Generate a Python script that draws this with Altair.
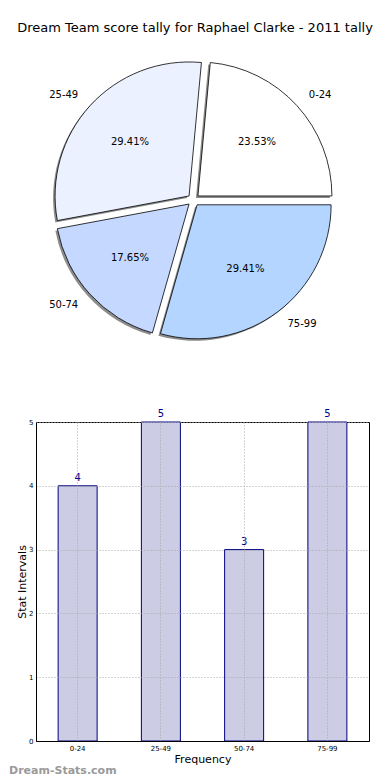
import math
import altair as alt
import pandas as pd

title_text = "Dream Team score tally for Raphael Clarke - 2011 tally"
categories = ["0-24", "25-49", "50-74", "75-99"]
counts = [4, 5, 3, 5]
slice_colors = ["#FFFFFF", "#EBF1FF", "#C5D8FF", "#B3D5FF"]
y_ticks = [0, 1, 2, 3, 4, 5]
x_title = "Frequency"
y_title = "Stat Intervals"
watermark = "Dream-Stats.com"

FONT = "DejaVu Sans"
L = 37
PW, PH = int(2 * (194.5 - L)), 300
BW, BH = 370 - L, 319
R = 134
EXPLODE = 6

# pie geometry derived from counts (matplotlib: start at 3 o'clock, counter-clockwise)
total = sum(counts)
rows = []
cum = 0.0
for cat, n, col in zip(categories, counts, slice_colors):
    a1 = 360.0 * cum / total
    cum += n
    a2 = 360.0 * cum / total
    mid = (a1 + a2) / 2.0
    rows.append({
        "category": cat,
        "count": n,
        "theta": 90.0 - a2,
        "theta2": 90.0 - a1,
        "mid": 90.0 - mid,
        "pct": f"{100.0 * n / total:.2f}%",
        "color": col,
        "dx": EXPLODE * math.cos(math.radians(mid)),
        "dy": -EXPLODE * math.sin(math.radians(mid)),
    })
pie_df = pd.DataFrame(rows)

theta_scale = alt.Scale(domain=[0, 360], range=[0, 2 * math.pi])

base = alt.Chart(pie_df)
shadows, wedges, texts = [], [], []
for r in rows:
    flt = alt.datum.category == r["category"]
    shadows.append(
        base.transform_filter(flt).mark_arc(
            radius=R, fill="#8c8c8c", xOffset=r["dx"] - 2, yOffset=r["dy"] + 2
        ).encode(
            theta=alt.Theta("theta:Q", scale=theta_scale),
            theta2="theta2:Q",
        )
    )
    wedges.append(
        base.transform_filter(flt).mark_arc(
            radius=R, fill=r["color"], stroke="black", strokeWidth=0.8,
            xOffset=r["dx"], yOffset=r["dy"]
        ).encode(
            theta=alt.Theta("theta:Q", scale=theta_scale),
            theta2="theta2:Q",
        )
    )
    texts.append(
        base.transform_filter(flt).mark_text(
            radius=80, fontSize=10, font=FONT, color="black",
            align="center", baseline="middle",
            xOffset=r["dx"], yOffset=r["dy"]
        ).encode(
            theta=alt.Theta("mid:Q", scale=theta_scale, stack=False),
            text="pct:N",
        )
    )
    right_side = math.sin(math.radians(r["mid"])) > 0
    texts.append(
        base.transform_filter(flt).mark_text(
            radius=150, fontSize=10, font=FONT, color="black",
            align="left" if right_side else "right", baseline="middle",
            xOffset=r["dx"], yOffset=r["dy"]
        ).encode(
            theta=alt.Theta("mid:Q", scale=theta_scale, stack=False),
            text="category:N",
        )
    )

pie = alt.layer(*shadows, *wedges, *texts).properties(width=PW, height=PH)

# bar chart
bar_df = pd.DataFrame({"interval": categories, "count": counts})
grid_kw = dict(grid=True, gridDash=[1, 2], gridColor="#a8a8a8", gridWidth=1,
               domainColor="black", zindex=1, ticks=False,
               labelFont=FONT, titleFont=FONT, labelColor="black", titleColor="black")
x_enc = alt.X(
    "interval:N", sort=categories,
    scale=alt.Scale(paddingInner=0, paddingOuter=0),
    axis=alt.Axis(title=x_title, labelAngle=0, labelFontSize=7, labelPadding=3,
                  titleFontSize=11, titleFontWeight="normal", titlePadding=2,
                  bandPosition=0.5, **grid_kw),
)
y_enc = alt.Y(
    "count:Q", scale=alt.Scale(domain=[0, 5]),
    axis=alt.Axis(title=y_title, values=y_ticks, format="d", labelFontSize=7,
                  labelPadding=3, titleFontSize=11, titleFontWeight="normal",
                  titlePadding=1, **grid_kw),
)
bars = alt.Chart(bar_df).mark_bar(
    fill="#CCCCE5", stroke="#000080", strokeWidth=1, width=39
).encode(x=x_enc, y=y_enc)
vals = alt.Chart(bar_df).mark_text(
    fontSize=10, font=FONT, color="#00008B", baseline="bottom", dy=-3
).encode(x=alt.X("interval:N", sort=categories), y="count:Q", text="count:Q")
wm = alt.Chart(pd.DataFrame({"t": [watermark]})).mark_text(
    fontSize=11, font=FONT, fontWeight="bold", color="#9a9a9a",
    align="left", baseline="middle"
).encode(text="t:N", x=alt.value(-27), y=alt.value(BH + 30))

bar = alt.layer(bars, vals, wm).properties(
    width=BW, height=BH, view=alt.ViewBackground(stroke="black", strokeWidth=1)
)

chart = alt.vconcat(pie, bar, spacing=72, bounds="flush").properties(
    title=alt.TitleParams(title_text, font=FONT, fontSize=13, fontWeight="normal",
                          color="black", anchor="middle", offset=15, dx=6),
    padding={"left": 0, "top": 14, "right": 0, "bottom": 0},
).configure_view(stroke="transparent")

chart.save("out.html", embed_options={"renderer": "svg", "actions": False})
